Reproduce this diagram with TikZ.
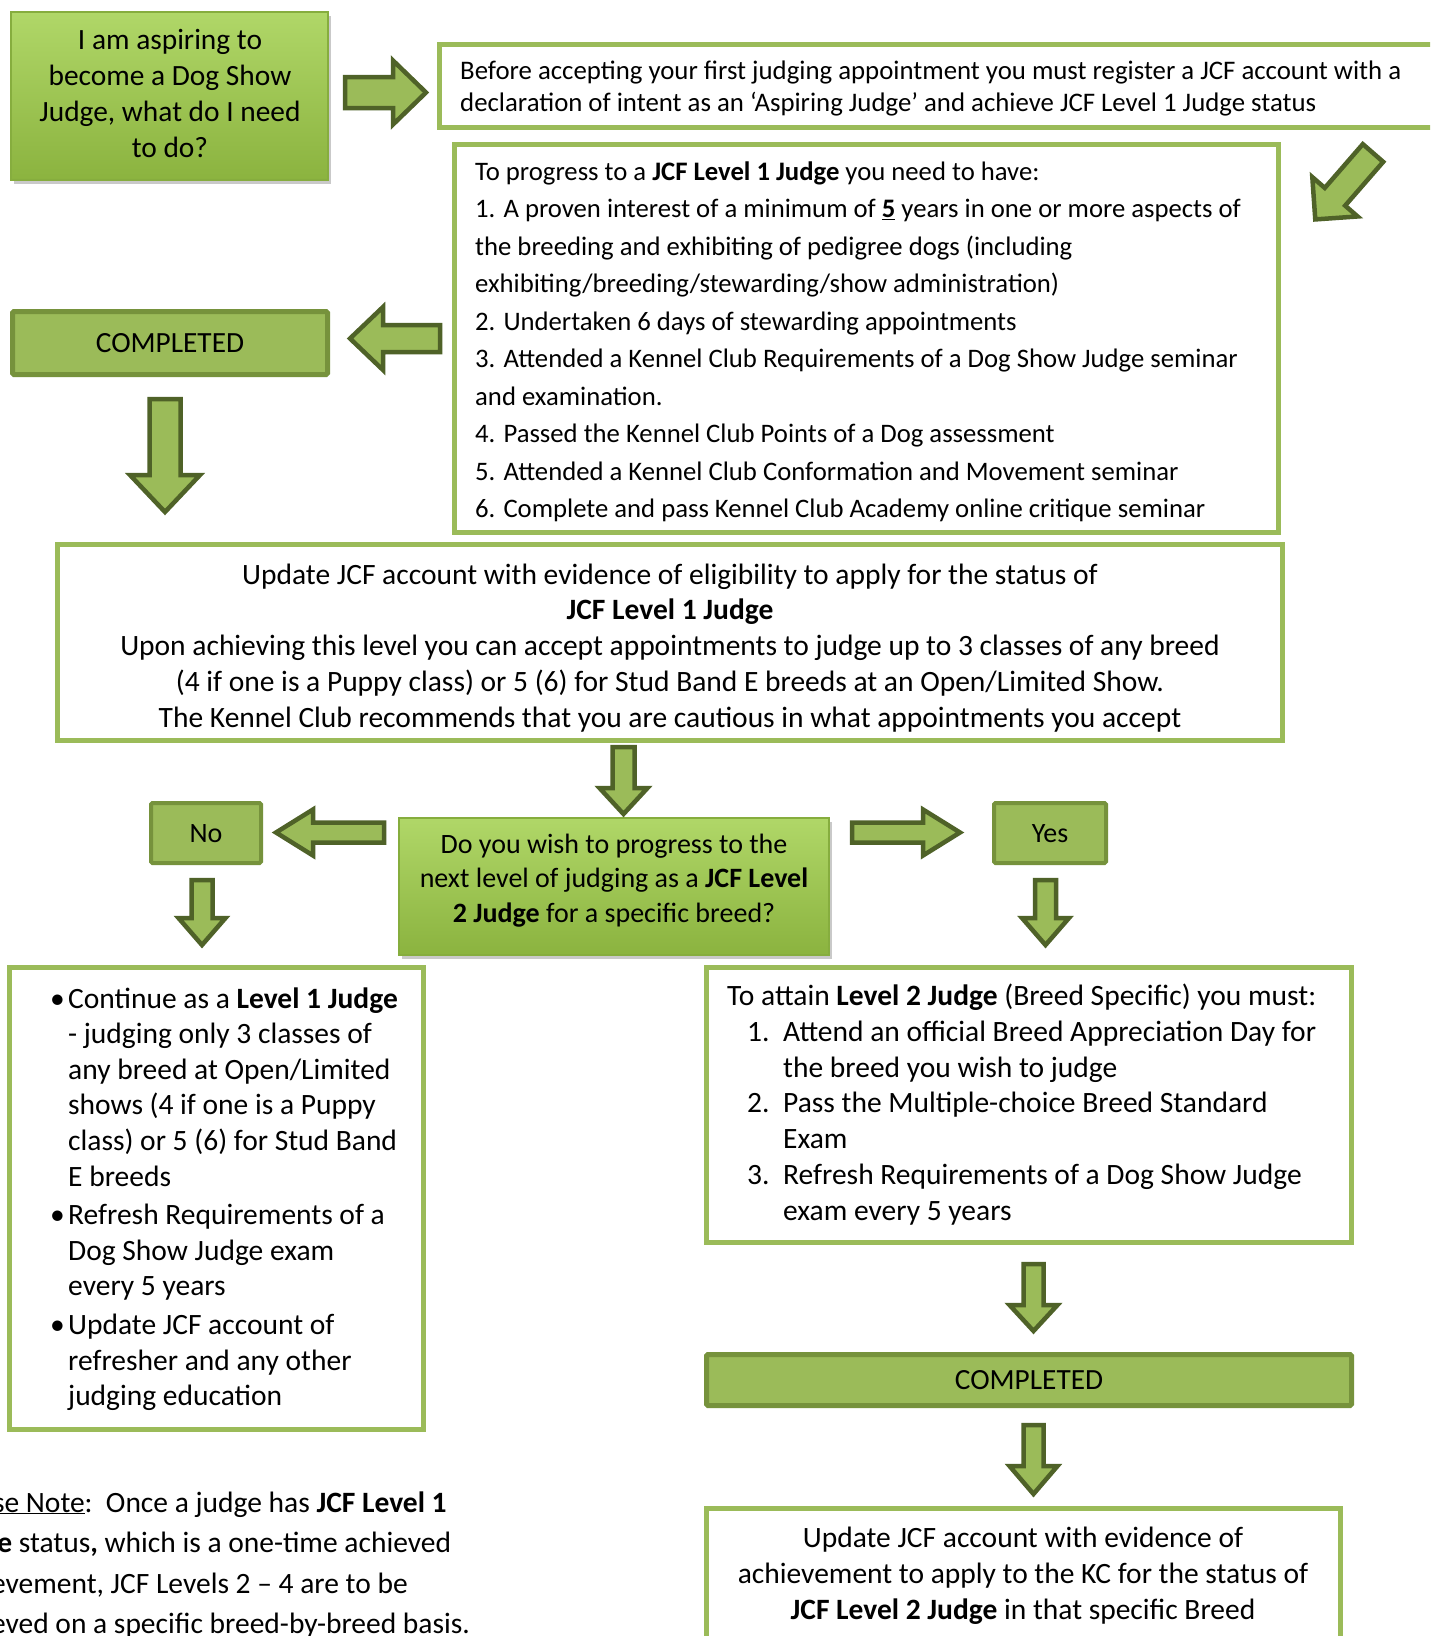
\documentclass[tikz,border=0pt]{standalone}
\usepackage{fontspec}
\setmainfont{Carlito}
\usetikzlibrary{shadows}
\definecolor{lg}{HTML}{9BBB59}
\definecolor{dg}{HTML}{76923C}
\definecolor{ag}{HTML}{4F6228}
\definecolor{af}{HTML}{9BBB59}
\definecolor{gtop}{HTML}{B0D768}
\definecolor{gbot}{HTML}{8BB33F}
\definecolor{gbord}{HTML}{86AD3E}
\newcommand{\fs}[2]{\fontsize{#1}{#2}\selectfont}
\begin{document}
\begin{tikzpicture}[x=1pt,y=1pt,
  whitebox/.style={draw=lg, line width=5pt, fill=white, inner sep=0pt},
  gradbox/.style={draw=gbord, line width=1.2pt, top color=gtop, bottom color=gbot, inner sep=0pt,
     drop shadow={shadow xshift=3pt, shadow yshift=-4pt, opacity=0.35, fill=black!60}},
  donebox/.style={draw=dg, line width=5pt, fill=lg, inner sep=0pt, rounded corners=1.5pt},
  txt/.style={inner sep=0pt, text=black},
  arrowsty/.style={draw=ag, fill=af, line width=4.5pt, line join=miter},
  pics/barrow/.style args={#1/#2/#3/#4}{code={
    \draw[arrowsty] (0,-#3/2) -- ({#1-#4},-#3/2) -- ({#1-#4},-#2/2) -- (#1,0)
      -- ({#1-#4},#2/2) -- ({#1-#4},#3/2) -- (0,#3/2) -- cycle;}}
]
\useasboundingbox (0,0) rectangle (1430,-1636);
\clip (0,0) rectangle (1430,-1636);
\fill[white] (0,0) rectangle (1430,-1636);

% ---------- boxes ----------
\node[gradbox, minimum width=317, minimum height=168] (start) at (169.5,-96) {};
\node[whitebox, minimum width=1010, minimum height=83] (reg) at (944.5,-86) {};
\node[whitebox, minimum width=824, minimum height=388] (req) at (866.5,-338.5) {};
\node[donebox, minimum width=315, minimum height=63] (done1) at (170,-343) {};
\node[whitebox, minimum width=1225, minimum height=196] (upd) at (670,-642.5) {};
\node[gradbox, minimum width=430, minimum height=137] (ask) at (614,-886.5) {};
\node[donebox, line width=4pt, minimum width=110, minimum height=60] (no) at (206,-833) {};
\node[donebox, line width=4pt, minimum width=112, minimum height=60] (yes) at (1050,-833) {};
\node[whitebox, minimum width=414, minimum height=462] (cont) at (216.5,-1198.5) {};
\node[whitebox, minimum width=645, minimum height=275] (att) at (1029,-1105) {};
\node[donebox, minimum width=645, minimum height=51] (done2) at (1029,-1380) {};
\node[whitebox, minimum width=634, minimum height=160] (fin) at (1023.5,-1588) {};

% ---------- block arrows ----------
\pic at (345,-92.5) {barrow=81/64/31/33};
\pic[rotate=229] at (1373,-153) {barrow=88/60/27/30};
\pic[rotate=180] at (440,-338.5) {barrow=90/63/27/33};
\pic[rotate=-90] at (165,-399) {barrow=113/70/31/37};
\pic[rotate=-90] at (623.5,-747) {barrow=67/48/22/26};
\pic[rotate=180] at (384,-832.5) {barrow=108/46/20/37};
\pic at (852,-832.5) {barrow=108/46/20/37};
\pic[rotate=-90] at (202,-880) {barrow=65/47/21/27};
\pic[rotate=-90] at (1045.5,-880) {barrow=65/47/21/27};
\pic[rotate=-90] at (1033.5,-1264) {barrow=67/48/20/26};
\pic[rotate=-90] at (1033.5,-1425) {barrow=69/48/20/28};

% ---------- texts (anchor=base is the baseline of the last line) ----------
\node[txt, align=center, font=\fs{29.4}{36}, anchor=base] (tstart) at (170,-157)
  {I am aspiring to\\become a Dog Show\\Judge, what do I need\\to do?};

\node[txt, align=left, font=\fs{26.8}{32}, anchor=base west] (treg) at (460,-111)
  {Before accepting your first judging appointment you must register a JCF account with a\\
   declaration of intent as an ‘Aspiring Judge’ and achieve JCF Level 1 Judge status};

\node[txt, align=left, font=\fs{26.7}{37.5}, anchor=base west] (treq) at (475,-517.5)
  {To progress to a \textbf{JCF Level 1 Judge} you need to have:\\
   1. A proven interest of a minimum of \underline{\textbf{5}} years in one or more aspects of\\
   the breeding and exhibiting of pedigree dogs (including\\
   exhibiting/breeding/stewarding/show administration)\\
   2. Undertaken 6 days of stewarding appointments\\
   3. Attended a Kennel Club Requirements of a Dog Show Judge seminar\\
   and examination.\\
   4. Passed the Kennel Club Points of a Dog assessment\\
   5. Attended a Kennel Club Conformation and Movement seminar\\
   6. Complete and pass Kennel Club Academy online critique seminar};

\node[txt, font=\fs{29.3}{32}, anchor=base] (tdone1) at (170,-352) {COMPLETED};

\node[txt, align=center, font=\fs{29.5}{35.75}, anchor=base] (tupd) at (670,-727)
  {Update JCF account with evidence of eligibility to apply for the status of\\
   \textbf{JCF Level 1 Judge}\\
   Upon achieving this level you can accept appointments to judge up to 3 classes of any breed\\
   (4 if one is a Puppy class) or 5 (6) for Stud Band E breeds at an Open/Limited Show.\\
   The Kennel Club recommends that you are cautious in what appointments you accept};

\node[txt, align=center, font=\fs{28}{34.5}, anchor=base] (task) at (614,-922)
  {Do you wish to progress to the\\
   next level of judging as a \textbf{JCF Level}\\
   \textbf{2 Judge} for a specific breed?};

\node[txt, font=\fs{28}{32}, anchor=base] (tno) at (206,-842) {No};
\node[txt, font=\fs{28}{32}, anchor=base] (tyes) at (1050,-842) {Yes};

\node[txt, align=left, font=\fs{29.5}{35.6}, anchor=base west] (tcont) at (50,-1405.6)
  {\makebox[18pt][l]{•}Continue as a \textbf{Level 1 Judge}\\
   \hspace*{18pt}- judging only 3 classes of\\
   \hspace*{18pt}any breed at Open/Limited\\
   \hspace*{18pt}shows (4 if one is a Puppy\\
   \hspace*{18pt}class) or 5 (6) for Stud Band\\
   \hspace*{18pt}E breeds\\[3pt]
   \makebox[18pt][l]{•}Refresh Requirements of a\\
   \hspace*{18pt}Dog Show Judge exam\\
   \hspace*{18pt}every 5 years\\[3pt]
   \makebox[18pt][l]{•}Update JCF account of\\
   \hspace*{18pt}refresher and any other\\
   \hspace*{18pt}judging education};

\node[txt, align=left, font=\fs{29.5}{35.7}, anchor=base west] (tatt) at (727,-1220)
  {To attain \textbf{Level 2 Judge} (Breed Specific) you must:\\
   \hspace*{20pt}\makebox[36pt][l]{1.}Attend an official Breed Appreciation Day for\\
   \hspace*{56pt}the breed you wish to judge\\
   \hspace*{20pt}\makebox[36pt][l]{2.}Pass the Multiple-choice Breed Standard\\
   \hspace*{56pt}Exam\\
   \hspace*{20pt}\makebox[36pt][l]{3.}Refresh Requirements of a Dog Show Judge\\
   \hspace*{56pt}exam every 5 years};

\node[txt, font=\fs{29.3}{32}, anchor=base] (tdone2) at (1029,-1389) {COMPLETED};

\node[txt, align=center, font=\fs{29.5}{36}, anchor=base] (tfin) at (1023,-1619)
  {Update JCF account with evidence of\\
   achievement to apply to the KC for the status of\\
   \textbf{JCF Level 2 Judge} in that specific Breed};

\node[txt, align=left, font=\fs{29.5}{40.5}, anchor=base west] (tnote) at (-58,-1633.5)
  {\underline{Please Note}:\ \ Once a judge has \textbf{JCF Level 1}\\
   \textbf{Judge} status\textbf{,} which is a one-time achieved\\
   achievement, JCF Levels 2 – 4 are to be\\
   achieved on a specific breed-by-breed basis.};
\end{tikzpicture}
\end{document}
